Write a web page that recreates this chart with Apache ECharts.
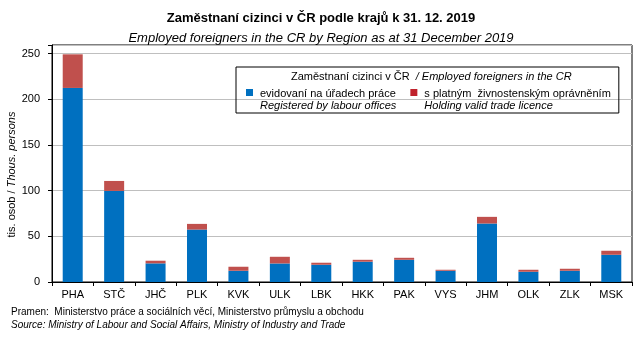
<!DOCTYPE html>
<html>
<head>
<meta charset="utf-8">
<script src="https://cdn.jsdelivr.net/npm/echarts@6/dist/echarts.min.js"></script>
<style>
  html, body { margin: 0; padding: 0; background: #fff; }
  #chart { width: 642px; height: 340px; }
</style>
</head>
<body>
<div id="chart"></div>
<script>
// Region codes (x axis)
const regions = ['PHA', 'STČ', 'JHČ', 'PLK', 'KVK', 'ULK', 'LBK', 'HKK', 'PAK', 'VYS', 'JHM', 'OLK', 'ZLK', 'MSK'];

// Foreigners registered by labour offices, thousands
const labourOffices = [212.4, 99.7, 20.4, 57.4, 12.3, 20.3, 18.9, 22.2, 24.3, 12.3, 64.0, 11.2, 12.3, 29.8];

// Foreigners holding a valid trade licence, thousands
const tradeLicence = [36.8, 10.9, 2.9, 6.2, 4.4, 7.3, 2.2, 2.1, 2.2, 1.1, 7.3, 2.2, 2.2, 4.4];

// Value axis ticks
const yTicks = [0, 50, 100, 150, 200, 250];

const seriesNames = [
  'evidovaní na úřadech práce\nRegistered by labour offices',
  's platným  živnostenským oprávněním\nHolding valid trade licence'
];

const FONT = '"Liberation Sans", Arial, sans-serif';

const chart = echarts.init(document.getElementById('chart'), null, { renderer: 'canvas' });

chart.setOption({
  backgroundColor: '#ffffff',
  animation: false,
  textStyle: { fontFamily: FONT },
  title: [
    {
      text: 'Zaměstnaní cizinci v ČR podle krajů k 31. 12. 2019',
      left: 'center',
      top: 7,
      textStyle: { fontFamily: FONT, fontSize: 13, fontWeight: 'bold', color: '#000' }
    },
    {
      text: 'Employed foreigners in the CR by Region as at 31 December 2019',
      left: 'center',
      top: 27,
      textStyle: { fontFamily: FONT, fontSize: 13, fontStyle: 'italic', fontWeight: 'normal', color: '#000' }
    },
    {
      text: '{n|Zaměstnaní cizinci v ČR  }{i|/ Employed foreigners in the CR}',
      left: 291,
      top: 71,
      padding: 0,
      textStyle: {
        fontWeight: 'normal',
        rich: {
          n: { fontFamily: FONT, fontSize: 11, fontWeight: 'normal', color: '#000' },
          i: { fontFamily: FONT, fontSize: 11, fontWeight: 'normal', fontStyle: 'italic', color: '#000' }
        }
      }
    },
    {
      text: 'Pramen:  Ministerstvo práce a sociálních věcí, Ministerstvo průmyslu a obchodu',
      left: 11,
      top: 307,
      padding: 0,
      textStyle: { fontFamily: FONT, fontSize: 10, fontWeight: 'normal', color: '#000' }
    },
    {
      text: 'Source: Ministry of Labour and Social Affairs, Ministry of Industry and Trade',
      left: 11,
      top: 320,
      padding: 0,
      textStyle: { fontFamily: FONT, fontSize: 10, fontStyle: 'italic', fontWeight: 'normal', color: '#000' }
    }
  ],
  legend: {
    left: 236,
    top: 67,
    orient: 'horizontal',
    padding: [21, 8, 2, 10],
    borderColor: '#000',
    borderWidth: 1,
    itemWidth: 7,
    itemHeight: 7,
    itemGap: 14,
    icon: 'rect',
    data: [
      { name: seriesNames[0], itemStyle: { color: '#0070C0' } },
      { name: seriesNames[1], itemStyle: { color: '#C0222C' } }
    ],
    formatter: function (name) {
      const parts = name.split('\n');
      return '{a|' + parts[0] + '}\n{b|' + parts[1] + '}';
    },
    textStyle: {
      padding: [14, 0, 0, 2],
      rich: {
        a: { fontFamily: FONT, fontSize: 11, color: '#000', lineHeight: 12 },
        b: { fontFamily: FONT, fontSize: 11, fontStyle: 'italic', color: '#000', lineHeight: 12 }
      }
    }
  },
  grid: {
    left: 52,
    right: 10,
    top: 45,
    bottom: 58,
    show: true,
    borderColor: '#000',
    borderWidth: 1,
    containLabel: false,
    outerBoundsMode: 'none'
  },
  xAxis: {
    type: 'category',
    data: regions,
    axisLine: { show: true, lineStyle: { color: '#000', width: 1 } },
    axisTick: { show: true, alignWithLabel: false, length: 4, lineStyle: { color: '#000' } },
    axisLabel: { fontFamily: FONT, fontSize: 11, color: '#000', margin: 7 },
    splitLine: { show: false }
  },
  yAxis: {
    type: 'value',
    min: yTicks[0],
    max: 259.4,
    interval: yTicks[1] - yTicks[0],
    name: '{n|tis. osob / }{i|Thous. persons}',
    nameLocation: 'middle',
    nameGap: 35,
    nameMoveOverlap: false,
    nameTextStyle: {
      padding: [0, 22, 0, 0],
      rich: {
        n: { fontFamily: FONT, fontSize: 11, color: '#000' },
        i: { fontFamily: FONT, fontSize: 11, fontStyle: 'italic', color: '#000' }
      }
    },
    axisLine: { show: true, lineStyle: { color: '#000', width: 1 } },
    axisTick: { show: true, length: 4, lineStyle: { color: '#000' } },
    axisLabel: {
      fontFamily: FONT, fontSize: 11, color: '#000', margin: 12,
      formatter: function (v) { return yTicks.indexOf(v) >= 0 ? String(v) : ''; }
    },
    splitLine: { show: true, lineStyle: { color: '#BFBFBF', width: 1 } }
  },
  series: [
    {
      name: seriesNames[0],
      type: 'bar',
      stack: 'total',
      barWidth: 20,
      data: labourOffices,
      itemStyle: { color: '#0070C0' }
    },
    {
      name: seriesNames[1],
      type: 'bar',
      stack: 'total',
      barWidth: 20,
      data: tradeLicence,
      itemStyle: { color: '#C0504D' }
    }
  ]
});
</script>
</body>
</html>
